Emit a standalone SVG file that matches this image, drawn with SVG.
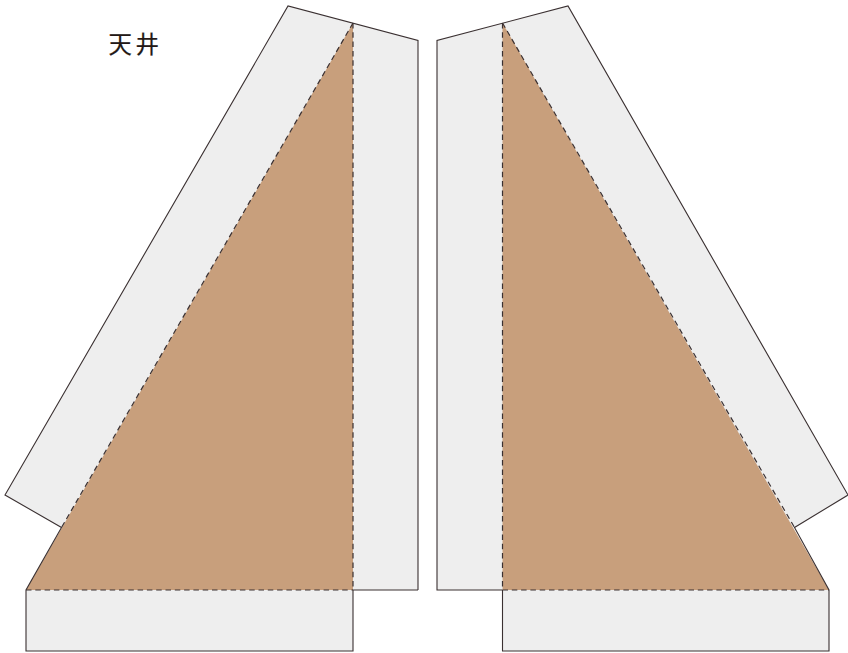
<svg xmlns="http://www.w3.org/2000/svg" width="848" height="653" viewBox="0 0 848 653">
<style>
.fill{fill:#eeeeee;stroke:none}
.brown{fill:#c89f7c;stroke:none}
.edge{fill:none;stroke:#3a3031;stroke-width:1.1;stroke-linejoin:miter}
.fold{fill:none;stroke:#3a3031;stroke-width:1.2;stroke-dasharray:5.5 3.8}
text{font-family:"Noto Sans CJK JP","Liberation Sans",sans-serif;font-size:23.500px;font-weight:400;fill:#231815;stroke:#231815;stroke-width:0.2}
</style>
<rect width="848" height="653" fill="#ffffff"/>
<g id="left-panel">
<path class="fill" d="M288 6L418 40.500V590H353V527.500H61.500L5 495Z"/>
<rect class="fill" x="26" y="590" width="327" height="61"/>
<path class="brown" d="M353 23V590H26Z"/>
<path class="edge" d="M418 590V40.500L288 6L5 495L61.500 527.500L26 590V651H353V590H418"/>
</g>
<g id="right-panel">
<path class="fill" d="M568 6L437 40.500V590H502.500V527.500H794.500L848 495Z"/>
<rect class="fill" x="502.500" y="590" width="326.500" height="61"/>
<path class="brown" d="M502.500 23V590H829Z"/>
<path class="edge" d="M502.500 590H437V40.500L568 6L848 495L794.500 527.500L829 590V651H502.500V590"/>
</g>
<g id="connectors">
<path class="fold" d="M353 23V590"/>
<path class="fold" d="M353 23L61.500 527.500"/>
<path class="fold" d="M26 590H353"/>
<path class="fold" d="M502.500 23V590"/>
<path class="fold" d="M502.500 23L794.500 527.500"/>
<path class="fold" d="M502.500 590H829"/>
</g>
<g id="label"><text x="108.500" y="53" textLength="50.500">天井</text></g>
</svg>
